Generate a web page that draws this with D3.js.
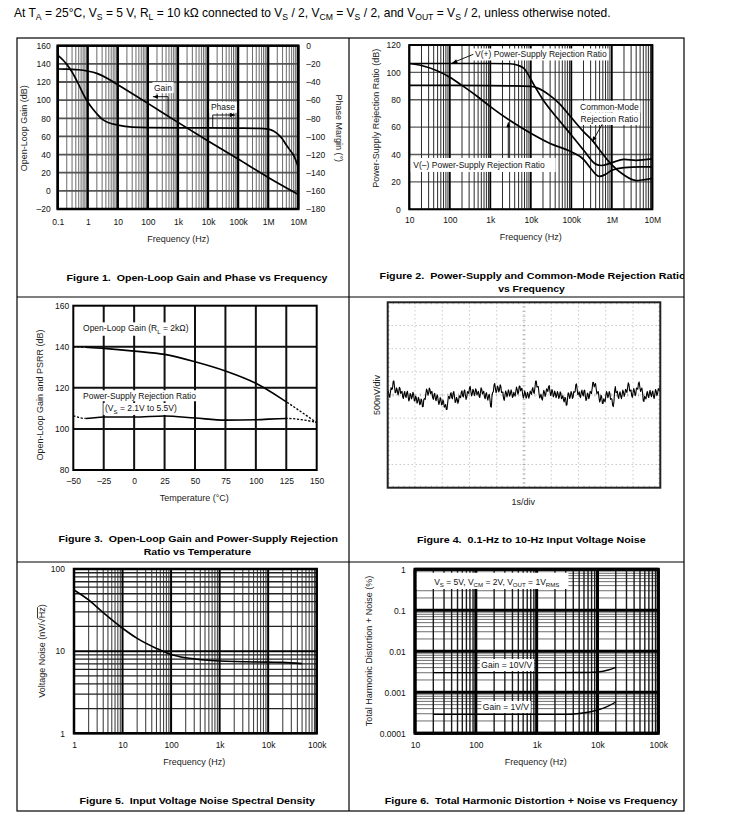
<!DOCTYPE html>
<html><head><meta charset="utf-8">
<script src="https://cdn.jsdelivr.net/npm/d3@7"></script>
<style>
body{margin:0;background:#fff;}
svg{display:block;}
</style></head><body>
<script>
// ================= DATA =================
const headerParts = [["At T",0],["A",1],[" = 25°C, V",0],["S",1],[" = 5 V, R",0],["L",1],[" = 10 kΩ connected to V",0],["S",1],[" / 2, V",0],["CM",1],[" = V",0],["S",1],[" / 2, and V",0],["OUT",1],[" = V",0],["S",1],[" / 2, unless otherwise noted.",0]];

// Figure 1
const f1XTicks = [0.1,1,10,100,1e3,1e4,1e5,1e6,1e7];
const f1XLabels = ["0.1","1","10","100","1k","10k","100k","1M","10M"];
const f1YTicks = [-20,0,20,40,60,80,100,120,140,160];
const f1YLabels = ["–20","0","20","40","60","80","100","120","140","160"];
const f1Y2Ticks = [0,-20,-40,-60,-80,-100,-120,-140,-160,-180];
const f1Y2Labels = ["0","–20","–40","–60","–80","–100","–120","–140","–160","–180"];
const f1GainFreq = [0.1,0.2,0.3,0.5,1,2,3,5,10,100,1e3,1e4,1e5,1e6,1e7];
const f1Gain = [134.3,134.2,134,133.5,132,129.5,127,123,117,96.4,75.5,55,35,14.8,-4];
const f1PhaseFreq = [0.1,0.15,0.2,0.3,0.5,0.7,1,1.5,2,3,5,10,30,100,1e3,1e4,1e5,5e5,1e6,1.5e6,2e6,3e6,4e6,5e6,7e6,1e7];
const f1Phase = [-10.3,-15.8,-20.6,-29,-43,-53,-62,-70,-75,-81,-85,-87.5,-89.7,-90.3,-90.5,-90.5,-90.8,-91.2,-92,-94,-97,-103,-109.5,-114,-121,-134];

// Figure 2
const f2XTicks = [10,100,1e3,1e4,1e5,1e6,1e7];
const f2XLabels = ["10","100","1k","10k","100k","1M","10M"];
const f2YTicks = [0,20,40,60,80,100,120];
const f2PosFreq = [10,100,1e3,3e3,5e3,7e3,1e4,1.3e4,2e4,5e4,1e5,2e5,4e5,5.5e5,1e6,2e6,4e6,1e7];
const f2PosVal  = [106.5,106.5,106.5,106.3,105,102.5,95,89,80,65,54.3,43.3,33,32,34,36.5,35.8,36.8];
const f2CmFreq  = [10,100,1e3,3e3,1e4,2e4,3e4,5e4,1e5,2e5,3.5e5,5e5,1e6,2e6,4e6,6e6,1e7];
const f2CmVal   = [90.5,90.5,90.4,90.2,89.8,86.6,83,77.4,67,56.7,49.4,43.3,32.4,25,21,21.5,22.6];
const f2NegFreq = [10,20,50,100,200,500,1e3,3e3,1e4,3e4,1e5,2e5,3e5,4e5,5e5,7e5,1e6,2e6,5e6,1e7];
const f2NegVal  = [106.5,105,101,96.5,90.5,82,75,65,55.5,48,42,36.5,30,25.5,24,25.5,28.5,30.5,31,31];

// Figure 3
const f3XTicks = [-50,-25,0,25,50,75,100,125,150];
const f3XLabels = ["–50","–25","0","25","50","75","100","125","150"];
const f3YTicks = [80,100,120,140,160];
const f3Temp = [-50,-40,-25,0,25,50,75,100,125,150];
const f3Gain = [140,139.8,139.2,137.9,136.3,132.7,128.2,122.2,113.2,103];
const f3Psrr = [106.4,105.1,105.8,105.8,106.3,105.3,104.3,104.5,105.1,103.2];

// Figure 4 (nV over 0..10 s)
const f4Noise = [
40,80,-20,-50,60,160,120,135,290,305,180,50,60,155,110,5,40,165,150,35,
60,80,-40,-75,30,75,-20,-55,50,80,-30,-130,-90,30,10,-85,-40,60,20,-125,
-130,-25,-60,-175,-150,-50,-90,-210,-190,-85,-120,-255,-250,-95,-80,-95,30,130,90,-5,
40,150,120,25,70,75,-60,-95,10,35,-80,-125,-30,0,-110,-205,-160,-55,-90,-215,
-200,-105,-150,-265,-240,-205,-310,-310,-170,-35,-40,-80,20,50,-60,-80,40,75,-30,-160,
-150,-50,-90,-180,-130,-15,-40,-60,60,90,-20,-40,80,110,0,-95,-50,75,60,35,
150,185,80,-20,20,125,90,-10,30,135,100,0,40,80,-20,-55,50,155,120,20,
60,80,-40,-80,20,50,-60,-110,-20,15,-90,-245,-260,-30,60,65,210,250,150,50,
90,195,160,65,110,220,190,55,60,65,-70,-115,-20,85,50,-40,10,110,70,-25,
20,110,60,-55,-30,60,10,-25,80,170,120,20,60,195,190,90,130,145,20,-65,
-10,85,40,-70,-40,60,20,-70,-20,85,50,15,120,160,60,35,150,295,300,170,
180,180,40,-65,-30,15,-80,-110,0,100,60,-30,20,135,110,75,180,205,90,-10,
30,120,70,-40,-10,85,40,-60,-20,75,30,-75,-40,70,40,-80,-60,-15,-110,-150,
-50,-65,-220,-210,-60,50,20,-75,-30,75,40,-75,-50,75,60,70,220,240,120,5,
30,70,-30,-55,60,105,10,-20,90,105,-20,-120,-80,40,20,-80,-40,80,60,30,
140,275,270,175,220,245,130,25,60,75,-50,-150,-110,-5,-40,-180,-180,-80,-120,-145,
-30,75,40,-60,-20,75,30,-95,-80,-80,-220,-250,-140,90,180,50,60,80,-40,-75,
30,70,-30,-80,10,105,60,-30,20,125,90,55,160,265,230,90,90,110,-10,-50,
50,140,90,-15,20,150,140,125,250,280,170,75,120,150,40,-120,-140,-30,-60,-85,
30,75,-20,-55,50,100,10,-35,60,85,-30,-75,20,120,80,-15,30,140,110,90,
210];

// Figure 5
const f5XTicks = [1,10,100,1e3,1e4,1e5];
const f5XLabels = ["1","10","100","1k","10k","100k"];
const f5YTicks = [1,10,100];
const f5Freq = [1,2,4,10,20,50,100,200,500,1e3,1e4,2e4,5e4];
const f5Noise = [55.5,42,29.4,19,14.3,10.8,9.1,8.3,7.8,7.6,7.35,7.3,7.05];

// Figure 6
const f6XTicks = [10,100,1e3,1e4,1e5];
const f6XLabels = ["10","100","1k","10k","100k"];
const f6YTicks = [1e-4,1e-3,1e-2,0.1,1];
const f6YLabels = ["0.0001","0.001","0.01","0.1","1"];
const f6Freq10 = [20,100,1e3,5e3,8e3,1e4,1.5e4,2e4];
const f6Thd10  = [0.00302,0.00302,0.00302,0.00303,0.00307,0.00313,0.0035,0.00407];
const f6Freq1  = [20,100,1e3,3e3,5e3,1e4,1.5e4,2e4];
const f6Thd1   = [0.00029,0.00029,0.00029,0.00029,0.000305,0.00037,0.00046,0.00058];

const captions = [
 {t:"Figure 1.  Open-Loop Gain and Phase vs Frequency", x:197, y:280.7, len:261},
 {t:"Figure 2.  Power-Supply and Common-Mode Rejection Ratio", x:379.6, y:278.5, len:306, start:true, clip:true},
 {t:"vs Frequency", x:531.5, y:291.7, len:66.6},
 {t:"Figure 3.  Open-Loop Gain and Power-Supply Rejection", x:198.3, y:541.7, len:279.4},
 {t:"Ratio vs Temperature", x:197.4, y:555.1, len:107.3},
 {t:"Figure 4.  0.1-Hz to 10-Hz Input Voltage Noise", x:531.3, y:543.4, len:228.6},
 {t:"Figure 5.  Input Voltage Noise Spectral Density", x:197.2, y:804.1, len:235.5},
 {t:"Figure 6.  Total Harmonic Distortion + Noise vs Frequency", x:531.1, y:804.1, len:292.8}
];

// ================= DRAWING =================
const FONT = "'Liberation Sans', Arial, Helvetica, sans-serif";
const INK = "#111";
const svg = d3.select("body").append("svg").attr("width",730).attr("height",829)
  .attr("font-family",FONT);
svg.append("rect").attr("width",730).attr("height",829).attr("fill","#fff");
const defs = svg.append("defs");

function rich(g, x, y, parts, fs, anchor){
  const t = g.append("text").attr("x",x).attr("y",y).attr("font-size",fs)
    .attr("text-anchor",anchor||"start").attr("fill",INK);
  let cur = 0;
  parts.forEach(([s,sub])=>{
    const target = sub ? fs*0.28 : 0;
    const sp = t.append("tspan").attr("dy",target-cur).text(s);
    if(sub) sp.attr("font-size",fs*0.72);
    cur = target;
  });
  return t;
}
function boxBehind(g, t, px, py){
  const b = t.node().getBBox();
  g.insert("rect", function(){return t.node();})
   .attr("x",b.x-px).attr("y",b.y-py).attr("width",b.width+2*px).attr("height",b.height+2*py)
   .attr("fill","#fff");
}
function logGridVals(a,b){
  const v=[]; const e0=Math.round(Math.log10(a)), e1=Math.round(Math.log10(b));
  for(let e=e0;e<e1;e++){ for(let k=1;k<10;k++) v.push({v:+(k*Math.pow(10,e)).toPrecision(6),major:k===1}); }
  v.push({v:Math.pow(10,e1),major:true}); return v;
}
function vlines(g,x,vals,y0,y1,stroke,w){
  return g.append("g").selectAll("line").data(vals).join("line")
   .attr("x1",d=>x(d)).attr("x2",d=>x(d)).attr("y1",y0).attr("y2",y1)
   .attr("stroke",stroke).attr("stroke-width",w);
}
function hlines(g,y,vals,x0,x1,stroke,w){
  return g.append("g").selectAll("line").data(vals).join("line")
   .attr("y1",d=>y(d)).attr("y2",d=>y(d)).attr("x1",x0).attr("x2",x1)
   .attr("stroke",stroke).attr("stroke-width",w);
}
function frame(g,x,y,w){
  const [a,b]=x.range(), [c,d]=y.range();
  g.append("rect").attr("x",a).attr("y",d).attr("width",b-a).attr("height",c-d)
   .attr("fill","none").attr("stroke","#000").attr("stroke-width",w);
}
function axis(g, gen, tx, ty, fs){
  const a = g.append("g").attr("transform",`translate(${tx},${ty})`).call(gen);
  a.select(".domain").remove(); a.selectAll(".tick line").remove();
  a.attr("font-family",FONT).attr("font-size",fs);
  a.selectAll("text").attr("fill",INK);
  return a;
}
function vtitle(g, x, y, txt, rot, fs){
  return g.append("text").attr("transform",`translate(${x},${y}) rotate(${rot})`)
    .attr("text-anchor","middle").attr("font-size",fs||9).attr("fill","#222").text(txt);
}
function htitle(g, x, y, txt, fs){
  return g.append("text").attr("x",x).attr("y",y).attr("text-anchor","middle")
    .attr("font-size",fs||9).attr("fill","#222").text(txt);
}
function arrow(g,x1,y1,x2,y2){
  g.append("line").attr("x1",x1).attr("y1",y1).attr("x2",x2).attr("y2",y2)
   .attr("stroke","#000").attr("stroke-width",0.9);
  const ang = Math.atan2(y2-y1,x2-x1), L=5, W=2;
  const bx = x2-L*Math.cos(ang), by = y2-L*Math.sin(ang);
  const px = -Math.sin(ang)*W, py = Math.cos(ang)*W;
  g.append("path").attr("d",`M${x2},${y2}L${bx+px},${by+py}L${bx-px},${by-py}Z`).attr("fill","#000");
}
function curve(g, x, y, xs, ys, w, dash){
  const p = g.append("path").datum(xs.map((v,i)=>[v,ys[i]]))
   .attr("d",d3.line().x(d=>x(d[0])).y(d=>y(d[1])).curve(d3.curveMonotoneX))
   .attr("fill","none").attr("stroke","#000").attr("stroke-width",w||1.6)
   .attr("stroke-linejoin","round");
  if(dash) p.attr("stroke-dasharray",dash);
  return p;
}

// ---- header ----
{
const probe = rich(svg, 14, 16.5, headerParts, 10.5, "start");
const w = probe.node().getComputedTextLength(); const fs = 10.5*597/w; probe.remove();
rich(svg, 14, 16.5, headerParts, fs, "start").attr("fill","#000");
}

// ---- table ----
const T = {x0:17,x1:684,xm:349,y0:38,y1:811,r1:297,r2:562};
const tg = svg.append("g").attr("stroke","#000").attr("stroke-width",1.2).attr("fill","none");
tg.append("rect").attr("x",T.x0).attr("y",T.y0).attr("width",T.x1-T.x0).attr("height",T.y1-T.y0);
tg.append("line").attr("x1",T.xm).attr("x2",T.xm).attr("y1",T.y0).attr("y2",T.y1);
tg.append("line").attr("x1",T.x0).attr("x2",T.x1).attr("y1",T.r1).attr("y2",T.r1);
tg.append("line").attr("x1",T.x0).attr("x2",T.x1).attr("y1",T.r2).attr("y2",T.r2);

// ================= FIGURE 1 =================
{
const g = svg.append("g");
const x = d3.scaleLog().domain([0.1,1e7]).range([57.7,298.3]);
const y = d3.scaleLinear().domain([-20,160]).range([209,45.7]);
const yr = d3.scaleLinear().domain([-180,0]).range([209,45.7]);
const gv = logGridVals(0.1,1e7);
vlines(g,x,gv.filter(d=>!d.major).map(d=>d.v),y(160),y(-20),"#5a5a5a",0.9);
hlines(g,y,f1YTicks,x(0.1),x(1e7),"#555",1.8);
vlines(g,x,gv.filter(d=>d.major).map(d=>d.v),y(160),y(-20),"#000",2.2);
const gt = rich(g, x(316), y(110.5), [["Gain",0]], 8.5, "middle"); boxBehind(g,gt,1.5,0.5);
const pt = rich(g, x(31400), y(88.8), [["Phase",0]], 8.5, "middle"); boxBehind(g,pt,1.5,0.5);
g.append("line").attr("x1",x(467)).attr("x2",x(467)).attr("y1",y(103.8)).attr("y2",y(82))
 .attr("stroke","#000").attr("stroke-width",0.9);
arrow(g, x(467), y(103.8), x(146.6), y(103.8));
g.append("line").attr("x1",x(14300)).attr("x2",x(14300)).attr("y1",y(83.6)).attr("y2",yr(-90.5))
 .attr("stroke","#000").attr("stroke-width",0.9);
arrow(g, x(14300), y(83.6), x(78700), y(83.6));
curve(g,x,y,f1GainFreq,f1Gain,1.7);
curve(g,x,yr,f1PhaseFreq,f1Phase,1.7);
frame(g,x,y,2.5);
axis(g, d3.axisBottom(x).tickValues(f1XTicks).tickFormat((d,i)=>f1XLabels[i]).tickSize(0).tickPadding(10), 0, 209, 8.5);
axis(g, d3.axisLeft(y).tickValues(f1YTicks).tickFormat((d,i)=>f1YLabels[i]).tickSize(0).tickPadding(7), 57.7, 0, 8.5);
axis(g, d3.axisRight(yr).tickValues(f1Y2Ticks).tickFormat((d,i)=>f1Y2Labels[i]).tickSize(0).tickPadding(8), 298.3, 0, 8.5);
vtitle(g, 26.5, 128.3, "Open-Loop Gain (dB)", -90);
vtitle(g, 335.5, 128.3, "Phase Margin (°)", 90);
htitle(g, 178.3, 241.5, "Frequency (Hz)");
}

// ================= FIGURE 2 =================
{
const g = svg.append("g");
const x = d3.scaleLog().domain([10,1e7]).range([409.3,652.3]);
const y = d3.scaleLinear().domain([0,120]).range([209.3,45]);
const gv = logGridVals(10,1e7);
hlines(g,y,f2YTicks,x(10),x(1e7),"#5a5a5a",1.4);
vlines(g,x,gv.filter(d=>!d.major).map(d=>d.v),y(120),y(0),"#2a2a2a",1);
vlines(g,x,gv.filter(d=>d.major).map(d=>d.v),y(120),y(0),"#000",1.8);
const t1 = rich(g, x(420), y(110.9), [["V(+) Power-Supply Rejection Ratio",0]], 8.5, "start"); boxBehind(g,t1,2,1);
const t2 = rich(g, x(8.7e5), 109.7, [["Common-Mode",0]], 8.5, "middle"); boxBehind(g,t2,1.5,1);
const t3 = rich(g, x(8.7e5), 122, [["Rejection Ratio",0]], 8.5, "middle"); boxBehind(g,t3,1.5,1);
g.append("rect").attr("x",x(10)+0.5).attr("y",y(37.5)).attr("width",x(4.0e4)-x(10)).attr("height",y(27.3)-y(37.5)).attr("fill","#fff");
rich(g, x(12.6), y(30.2), [["V(–) Power-Supply Rejection Ratio",0]], 8.5, "start");
curve(g,x,y,f2PosFreq,f2PosVal,1.7);
curve(g,x,y,f2CmFreq,f2CmVal,1.7);
curve(g,x,y,f2NegFreq,f2NegVal,1.7);
arrow(g, x(380), y(113.2), x(115), y(106.9));
arrow(g, x(5.8e5), y(62.1), x(3.3e5), y(49.4));
arrow(g, x(2780), y(37.5), x(2780), y(63.5));
frame(g,x,y,2);
axis(g, d3.axisBottom(x).tickValues(f2XTicks).tickFormat((d,i)=>f2XLabels[i]).tickSize(0).tickPadding(7.7), 0, 209.3, 8.5);
axis(g, d3.axisLeft(y).tickValues(f2YTicks).tickSize(0).tickPadding(8.6), 409.3, 0, 8.5);
vtitle(g, 378.5, 118.3, "Power-Supply Rejection Ratio (dB)", -90);
htitle(g, 530.7, 240, "Frequency (Hz)");
}

// ================= FIGURE 3 =================
{
const g = svg.append("g");
const x = d3.scaleLinear().domain([-50,150]).range([73.3,316.7]);
const y = d3.scaleLinear().domain([80,160]).range([470,305.7]);
vlines(g,x,f3XTicks.slice(1,-1),y(160),y(80),"#111",2);
hlines(g,y,f3YTicks.slice(1,-1),x(-50),x(150),"#111",2);
const a1 = rich(g, x(-42), y(147.5), [["Open-Loop Gain (R",0],["L",1],[" = 2kΩ)",0]], 8.5, "start"); boxBehind(g,a1,1.5,1);
const a2 = rich(g, x(-42), y(114.7), [["Power-Supply Rejection Ratio",0]], 8.5, "start"); boxBehind(g,a2,1.5,0.5);
const a3 = rich(g, x(-24), y(108.6), [["(V",0],["S",1],[" = 2.1V to 5.5V)",0]], 8.5, "start"); boxBehind(g,a3,1.5,0.3);
defs.append("clipPath").attr("id","c3solid").append("rect")
 .attr("x",x(-40)).attr("y",300).attr("width",x(125)-x(-40)).attr("height",180);
defs.append("clipPath").attr("id","c3dashL").append("rect")
 .attr("x",x(-51)).attr("y",300).attr("width",x(-40)-x(-51)).attr("height",180);
defs.append("clipPath").attr("id","c3dashR").append("rect")
 .attr("x",x(125)).attr("y",300).attr("width",x(151)-x(125)).attr("height",180);
[f3Gain,f3Psrr].forEach(vals=>{
  curve(g,x,y,f3Temp,vals,1.6).attr("clip-path","url(#c3solid)");
  curve(g,x,y,f3Temp,vals,1.3,"2.2,1.6").attr("clip-path","url(#c3dashL)");
  curve(g,x,y,f3Temp,vals,1.3,"2.2,1.6").attr("clip-path","url(#c3dashR)");
});
frame(g,x,y,2);
axis(g, d3.axisBottom(x).tickValues(f3XTicks).tickFormat((d,i)=>f3XLabels[i]).tickSize(0).tickPadding(8.3), 0, 470, 8.5);
axis(g, d3.axisLeft(y).tickValues(f3YTicks).tickSize(0).tickPadding(4), 73.3, 0, 8.5);
vtitle(g, 43, 395, "Open-Loop Gain and PSRR (dB)", -90);
htitle(g, 194.3, 501, "Temperature (°C)");
}

// ================= FIGURE 4 =================
{
const g = svg.append("g");
const x = d3.scaleLinear().domain([0,10]).range([387.7,660.3]);
const y = d3.scaleLinear().domain([-2000,2000]).range([487.7,302.3]);
const divX = [1,2,3,4,5,6,7,8,9], divY = [-1500,-1000,-500,0,500,1000,1500];
vlines(g,x,divX,y(2000),y(-2000),"#9a9a9a",0.8).attr("stroke-dasharray","1,3");
hlines(g,y,divY,x(0),x(10),"#9a9a9a",0.8).attr("stroke-dasharray","1,3");
const minorX = d3.range(1,50).map(i=>i/5), minorY = d3.range(-19,20).map(i=>i*100);
const tk = g.append("g").attr("stroke","#999").attr("stroke-width",0.7);
tk.selectAll(".mx").data(minorX).join("line").attr("x1",d=>x(d)).attr("x2",d=>x(d)).attr("y1",y(0)-1.5).attr("y2",y(0)+1.5);
tk.selectAll(".my").data(minorY).join("line").attr("y1",d=>y(d)).attr("y2",d=>y(d)).attr("x1",x(5)-1.5).attr("x2",x(5)+1.5);
tk.selectAll(".tx").data(minorX).join("line").attr("x1",d=>x(d)).attr("x2",d=>x(d)).attr("y1",y(2000)).attr("y2",y(2000)+2);
tk.selectAll(".bx").data(minorX).join("line").attr("x1",d=>x(d)).attr("x2",d=>x(d)).attr("y1",y(-2000)).attr("y2",y(-2000)-2);
tk.selectAll(".ly").data(minorY).join("line").attr("y1",d=>y(d)).attr("y2",d=>y(d)).attr("x1",x(0)).attr("x2",x(0)+2);
tk.selectAll(".ry").data(minorY).join("line").attr("y1",d=>y(d)).attr("y2",d=>y(d)).attr("x1",x(10)).attr("x2",x(10)-2);
const n = f4Noise.length;
g.append("path").datum(f4Noise)
 .attr("d",d3.line().x((d,i)=>x(i*10/(n-1))).y(d=>y(d)))
 .attr("fill","none").attr("stroke","#000").attr("stroke-width",1.1).attr("stroke-linejoin","round");
g.append("rect").attr("x",x(0)).attr("y",y(2000)).attr("width",x(10)-x(0)).attr("height",y(-2000)-y(2000))
 .attr("fill","none").attr("stroke","#222").attr("stroke-width",2);
vtitle(g, 379.5, 395, "500nV/div", -90);
htitle(g, 523.3, 505, "1s/div");
}

// ================= FIGURE 5 =================
{
const g = svg.append("g");
const x = d3.scaleLog().domain([1,1e5]).range([74,316.7]);
const y = d3.scaleLog().domain([1,100]).range([733.3,569]);
const gx = logGridVals(1,1e5), gy = logGridVals(1,100);
vlines(g,x,gx.filter(d=>!d.major).map(d=>d.v),y(100),y(1),"#444",1.1);
hlines(g,y,gy.filter(d=>!d.major).map(d=>d.v),x(1),x(1e5),"#222",1.3);
vlines(g,x,gx.filter(d=>d.major).map(d=>d.v),y(100),y(1),"#000",2);
hlines(g,y,gy.filter(d=>d.major).map(d=>d.v),x(1),x(1e5),"#000",2);
curve(g,x,y,f5Freq,f5Noise,1.6);
frame(g,x,y,2.5);
axis(g, d3.axisBottom(x).tickValues(f5XTicks).tickFormat((d,i)=>f5XLabels[i]).tickSize(0).tickPadding(8.4), 0, 733.3, 8.5);
axis(g, d3.axisLeft(y).tickValues(f5YTicks).tickFormat(d=>String(d)).tickSize(0).tickPadding(9), 74, 0, 8.5);
const vt = g.append("text").attr("transform","translate(45,651) rotate(-90)").attr("text-anchor","middle")
 .attr("font-size",9).attr("fill","#222");
vt.append("tspan").text("Voltage Noise (nV/√");
vt.append("tspan").attr("text-decoration","overline").text("Hz");
vt.append("tspan").text(")");
htitle(g, 194.3, 764.5, "Frequency (Hz)");
}

// ================= FIGURE 6 =================
{
const g = svg.append("g");
const x = d3.scaleLog().domain([10,1e5]).range([415,658.3]);
const y = d3.scaleLog().domain([1e-4,1]).range([733.3,569.3]);
const gx = logGridVals(10,1e5), gy = logGridVals(1e-4,1);
hlines(g,y,gy.filter(d=>!d.major).map(d=>d.v),x(10),x(1e5),"#6e6e6e",1);
vlines(g,x,gx.filter(d=>!d.major).map(d=>d.v),y(1),y(1e-4),"#1a1a1a",1.4);
hlines(g,y,gy.filter(d=>d.major).map(d=>d.v),x(10),x(1e5),"#000",3);
vlines(g,x,gx.filter(d=>d.major).map(d=>d.v),y(1),y(1e-4),"#000",3);
const vs = rich(g, x(221), 585, [["V",0],["S",1],[" = 5V, V",0],["CM",1],[" = 2V, V",0],["OUT",1],[" = 1V",0],["RMS",1]], 8.5, "middle");
{ const b = vs.node().getBBox();
  g.insert("rect", function(){return vs.node();}).attr("x",x(10)+1.5).attr("y",572.7)
   .attr("width",b.x+b.width+9-(x(10)+1.5)).attr("height",16.3).attr("fill","#fff"); }
const l1 = rich(g, x(322), y(0.0039), [["Gain = 10V/V",0]], 8.5, "middle"); boxBehind(g,l1,1.5,1);
const l2 = rich(g, x(312), y(0.00037), [["Gain = 1V/V",0]], 8.5, "middle"); boxBehind(g,l2,1.5,1);
curve(g,x,y,f6Freq10,f6Thd10,1.4);
curve(g,x,y,f6Freq1,f6Thd1,1.4);
frame(g,x,y,3);
axis(g, d3.axisBottom(x).tickValues(f6XTicks).tickFormat((d,i)=>f6XLabels[i]).tickSize(0).tickPadding(8.4), 0, 733.3, 8.5);
axis(g, d3.axisLeft(y).tickValues(f6YTicks).tickFormat((d,i)=>f6YLabels[i]).tickSize(0).tickPadding(9.3), 415, 0, 8.5);
vtitle(g, 372, 651, "Total Harmonic Distortion + Noise (%)", -90);
htitle(g, 535.7, 764.5, "Frequency (Hz)");
}

// ---- captions ----
defs.append("clipPath").attr("id","capclip").append("rect").attr("x",T.x0).attr("y",0).attr("width",T.x1-T.x0).attr("height",829);
captions.forEach(c=>{
  const t = svg.append("text").attr("x",c.x).attr("y",c.y).attr("font-size",9.5).attr("font-weight","bold")
   .attr("fill","#000").attr("text-anchor",c.start?"start":"middle").style("white-space","pre")
   .attr("textLength",c.len).attr("lengthAdjust","spacingAndGlyphs").text(c.t);
  if(c.clip) t.attr("clip-path","url(#capclip)");
});
</script>
</body></html>
